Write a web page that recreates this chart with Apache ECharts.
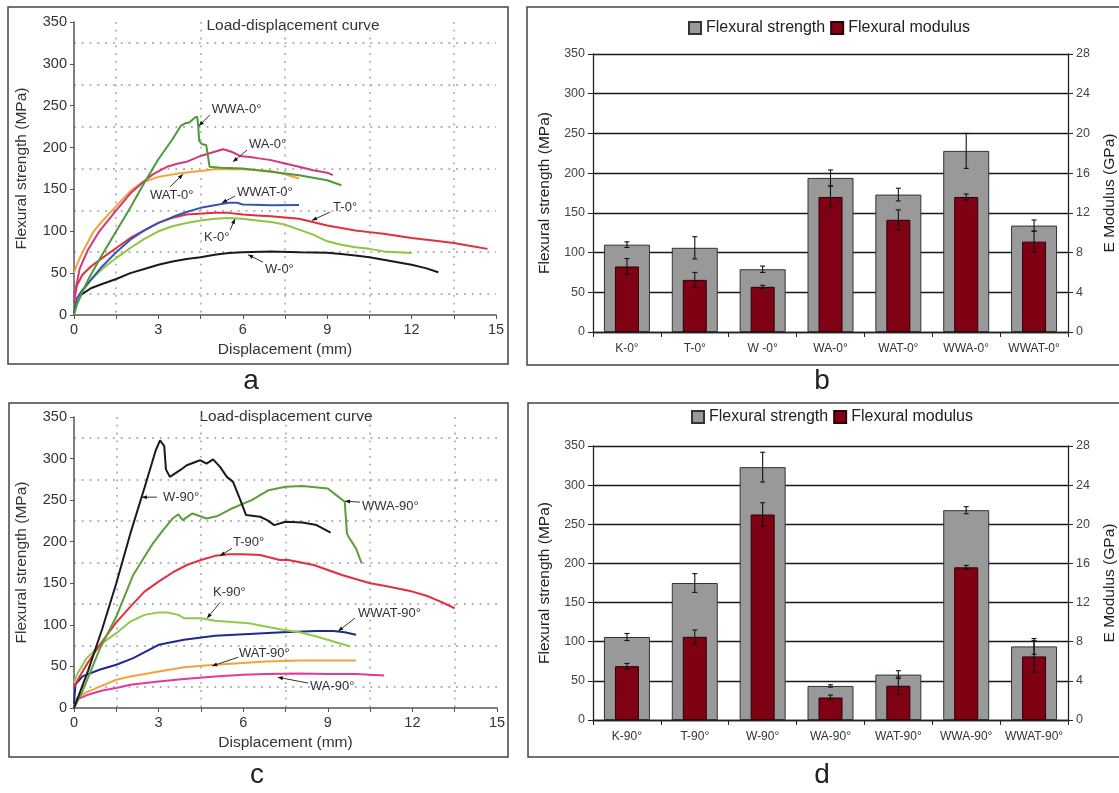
<!DOCTYPE html>
<html><head><meta charset="utf-8">
<script src="https://cdn.jsdelivr.net/npm/echarts/dist/echarts.min.js"></script>
<style>html,body{margin:0;padding:0;background:#fff}#c{width:1119px;height:793px}</style>
</head><body><div id="c"></div>
<script>
// ---------------- DATA ----------------
// Panel a: load-displacement curves, 0° (x: mm, y: MPa)
const a_WWA = [[0,0],[0.1,12],[0.3,28],[0.5,42],[1,72],[1.5,100],[2,128],[2.5,158],[3,186],[3.5,210],[3.8,226],[3.95,229],[4.1,230],[4.3,236],[4.38,237],[4.42,224],[4.45,208],[4.55,204],[4.7,203],[4.76,190],[4.82,177],[5.2,176],[6,175],[7,171],[8,167],[9,161],[9.5,155]];
const a_WA = [[0,18],[0.05,30],[0.2,55],[0.5,78],[0.9,100],[1.5,125],[2,145],[2.5,160],[2.8,168],[3.3,177],[3.7,181],[4,183],[4.5,190],[5,195],[5.3,198],[5.6,195],[5.9,190],[6.4,188],[7,185],[7.5,181],[8,177],[8.5,173],[9,170],[9.2,167]];
const a_WAT = [[0,50],[0.1,60],[0.3,75],[0.7,100],[1,112],[1.5,130],[2,148],[2.4,158],[3,165],[3.7,169],[4.5,172],[5,174],[6,174],[7,172],[7.5,168],[8,163]];
const a_WWAT = [[0,3],[0.1,20],[0.3,30],[0.6,42],[1,58],[1.5,75],[2,90],[2.5,101],[3,110],[3.5,117],[4,123],[4.5,128],[5,131],[5.5,134],[5.8,134],[6,132],[7,131],[8,131.5]];
const a_T = [[0,15],[0.1,35],[0.3,48],[0.6,58],[1,68],[1.5,80],[2,92],[2.5,101],[3,110],[3.5,116],[4,120],[5,122],[5.5,122],[6,120],[6.5,119],[7,118],[8,115],[9,107],[10,101],[10.5,99],[11,97],[12,92],[13,88],[13.5,86],[14,83],[14.7,79]];
const a_K = [[0,5],[0.1,15],[0.3,28],[0.6,42],[1,55],[1.5,68],[2,80],[2.5,91],[3,100],[3.5,106],[4,110],[4.5,113],[5,115],[5.5,116],[6,115],[6.5,113],[7,111],[7.5,108],[8,102],[8.5,96],[9,88],[9.5,84],[10,81],[10.5,79],[11,76],[11.5,75],[12,74]];
const a_W = [[0,2],[0.1,15],[0.25,24],[0.6,32],[1,37],[1.5,43],[2,50],[2.5,55],[3,60],[3.5,64],[4,67],[4.5,69],[5,72],[5.5,74],[6,75],[7,76],[8,75],[9,74.5],[9.5,73],[10,71],[10.5,69],[11,66],[12,60],[12.5,56],[12.95,51]];
// Panel c: load-displacement curves, 90°
const c_W = [[0,0],[0.5,45],[1,95],[1.5,150],[2,210],[2.5,265],[2.9,310],[3.05,322],[3.12,324],[3.2,315],[3.26,287],[3.4,278],[3.76,286],[4,292],[4.47,298],[4.7,294],[4.93,299],[5.18,290],[5.42,278],[5.64,272],[5.9,250],[6.1,232],[6.6,230],[6.85,226],[7.1,220],[7.5,224],[8.1,223],[8.6,220],[9.1,211]];
const c_WWA = [[0,0],[0.3,20],[0.9,70],[1.5,110],[2.1,160],[2.5,182],[2.8,198],[3.16,214],[3.5,228],[3.7,233],[3.85,226],[4.2,234],[4.7,228],[5.1,231],[5.6,240],[6.3,250],[6.9,262],[7.5,266],[8.1,267],[9,264],[9.3,256],[9.6,248],[9.68,210],[9.75,205],[10,192],[10.2,174]];
const c_T = [[0,25],[0.2,38],[0.5,55],[1,80],[1.5,103],[2,122],[2.5,140],[3,152],[3.5,163],[4,172],[4.5,178],[5,183],[5.5,185],[6,185],[6.6,184],[7.3,178],[7.6,178],[8.5,172],[9.5,160],[10.5,150],[11,147],[12,140],[12.5,135],[13,128],[13.5,120]];
const c_K = [[0,30],[0.1,40],[0.45,60],[1,78],[1.5,90],[2,104],[2.5,112],[3,115],[3.3,115],[3.7,112],[3.9,108],[4.5,108],[5,105],[6.2,102],[6.8,98],[7.4,94],[8,91],[8.6,86],[9.2,80],[9.8,74]];
const c_WWAT = [[0,5],[0.05,28],[0.3,38],[0.9,46],[1.5,52],[2.1,60],[3,76],[3.9,82],[5,87],[6.2,89],[7.4,91],[8.6,92.5],[9.2,92.5],[9.6,91],[10,88]];
const c_WAT = [[0,0],[0.1,12],[0.45,19],[1,27],[1.5,34],[2,38],[2.7,42],[3.9,49],[5,52],[6.8,56],[8,57],[10,57]];
const c_WA = [[0,0],[0.1,10],[0.5,16],[1,21],[1.5,24],[2,28],[3,32],[3.9,35],[5,38],[6,40],[6.8,41],[8,41.5],[9,41],[10,41],[11,39]];
// Curve labels (anchored in data units): text position, leader start, leader end
const annA = [
  {t:'WWA-0°',  at:[4.9,245],  from:[4.83,239], to:[4.44,226]},
  {t:'WA-0°',   at:[6.22,204], from:[6.15,197], to:[5.65,183]},
  {t:'WAT-0°',  at:[2.7,143],  from:[3.41,153], to:[3.87,168]},
  {t:'WWAT-0°', at:[5.79,147], from:[5.72,142], to:[5.26,134]},
  {t:'T-0°',    at:[9.21,128], from:[9.1,123],  to:[8.46,113]},
  {t:'K-0°',    at:[4.62,93],  from:[5.55,101.6], to:[5.72,114.7]},
  {t:'W-0°',    at:[6.79,54],  from:[6.72,63],  to:[6.19,72]}
];
const annC = [
  {t:'W-90°',    at:[3.16,253.6], from:[2.94,253.6], to:[2.41,253.6]},
  {t:'WWA-90°',  at:[10.21,243],  from:[10.14,247.6], to:[9.61,248.8]},
  {t:'T-90°',    at:[5.64,199.5], from:[5.6,192],   to:[5.18,183]},
  {t:'K-90°',    at:[4.93,139.4], from:[5.18,127],  to:[4.72,108]},
  {t:'WWAT-90°', at:[10.07,114],  from:[9.96,108],  to:[9.37,92.5]},
  {t:'WAT-90°',  at:[5.85,66],    from:[5.82,61],   to:[4.9,50.5]},
  {t:'WA-90°',   at:[8.37,26.4],  from:[8.3,30],    to:[7.23,37]}
];
// Panel b / d: bar values
const catsB = ['K-0°','T-0°','W -0°','WA-0°','WAT-0°','WWA-0°','WWAT-0°'];
const strengthB = [110,106,79,194,173,228,134];
const strengthErrB = [3.5,14,4,10,8,22,7];
const modulusB = [6.6,5.25,4.55,13.6,11.3,13.6,9.1];
const modulusErrB = [0.8,0.75,0.15,1.1,1.0,0.3,1.05];
const catsD = ['K-90°','T-90°','W-90°','WA-90°','WAT-90°','WWA-90°','WWAT-90°'];
const strengthD = [106,175,323,43.5,58,268,94];
const strengthErrD = [4.5,12,19,1.5,5,4.5,10];
const modulusD = [5.5,8.5,21.0,2.3,3.5,15.6,6.5];
const modulusErrD = [0.28,0.7,1.2,0.25,0.9,0.2,1.6];
// tick labels
const dispTicks = [0,3,6,9,12,15];
const strengthTicks = [0,50,100,150,200,250,300,350];
const modulusTicks = [0,4,8,12,16,20,24,28];

// ---------------- CHART ----------------
const FONT = '"Liberation Sans", Arial, sans-serif';
const chart = echarts.init(document.getElementById('c'), null, {renderer:'canvas'});

function curveX(gi, name){
  return {gridIndex:gi, type:'value', min:dispTicks[0], max:dispTicks[dispTicks.length-1], interval:dispTicks[1]-dispTicks[0],
    name:name, nameLocation:'middle', nameGap:27, nameTextStyle:{fontSize:15.5, color:'#333', fontFamily:FONT},
    axisLine:{lineStyle:{color:'#555', width:1.5}}, axisTick:{show:true, length:4, lineStyle:{color:'#555'}},
    minorTick:{show:true, splitNumber:2, length:4, lineStyle:{color:'#555'}},
    splitLine:{show:false}, minorSplitLine:{show:true, lineStyle:{color:'#b0b0b0', width:1.8, type:[1.8,6]}},
    axisLabel:{fontSize:14.5, color:'#333', margin:7, fontFamily:FONT}};
}
function curveY(gi){
  return {gridIndex:gi, type:'value', min:strengthTicks[0], max:strengthTicks[strengthTicks.length-1], interval:strengthTicks[1]-strengthTicks[0],
    name:'Flexural strength (MPa)', nameLocation:'middle', nameGap:44, nameRotate:90, nameTextStyle:{fontSize:15.5, color:'#333', fontFamily:FONT},
    axisLine:{show:true, lineStyle:{color:'#555', width:1.5}}, axisTick:{show:true, length:4, lineStyle:{color:'#555'}},
    minorTick:{show:false, splitNumber:2},
    splitLine:{show:false}, minorSplitLine:{show:true, lineStyle:{color:'#b0b0b0', width:1.8, type:[1.8,6]}},
    axisLabel:{fontSize:14.5, color:'#333', margin:7, fontFamily:FONT}};
}
function catX(gi, cats, hidden){
  return {gridIndex:gi, type:'category', data:cats, show:!hidden,
    axisLine:{lineStyle:{color:'#222', width:1.3}}, axisTick:{show:true, interval:0, length:5, lineStyle:{color:'#222'}},
    axisLabel:{fontSize:12, color:'#333', margin:11, interval:0, fontFamily:FONT}};
}
function barYL(gi){
  return {gridIndex:gi, type:'value', min:strengthTicks[0], max:strengthTicks[strengthTicks.length-1], interval:strengthTicks[1]-strengthTicks[0],
    name:'Flexural strength (MPa)', nameLocation:'middle', nameGap:40, nameRotate:90, nameTextStyle:{fontSize:15.5, color:'#222', fontFamily:FONT},
    axisLine:{show:true, lineStyle:{color:'#222', width:1.3}}, axisTick:{show:true, length:5, lineStyle:{color:'#222'}},
    splitLine:{show:true, lineStyle:{color:'#1a1a1a', width:1.3}},
    axisLabel:{fontSize:12.5, color:'#444', margin:8, fontFamily:FONT}};
}
function barYR(gi){
  return {gridIndex:gi, type:'value', position:'right', min:modulusTicks[0], max:modulusTicks[modulusTicks.length-1], interval:modulusTicks[1]-modulusTicks[0],
    name:'E Modulus (GPa)', nameLocation:'middle', nameGap:34, nameRotate:90, nameTextStyle:{fontSize:15.5, color:'#222', fontFamily:FONT},
    axisLine:{show:true, lineStyle:{color:'#222', width:1.3}}, axisTick:{show:true, length:5, lineStyle:{color:'#222'}},
    splitLine:{show:false},
    axisLabel:{fontSize:12.5, color:'#444', margin:8, fontFamily:FONT}};
}
function lineS(name, data, color, xi, yi){
  return {name:name, type:'line', data:data, xAxisIndex:xi, yAxisIndex:yi, showSymbol:false, symbol:'none',
    lineStyle:{color:color, width:2}, itemStyle:{color:color}, z:3, silent:true, animation:false};
}
function annotRender(list){
  return function(params, api){
    const a = list[params.dataIndex];
    const pt = api.coord(a.at), p1 = api.coord(a.from), p2 = api.coord(a.to);
    const ang = Math.atan2(p2[1]-p1[1], p2[0]-p1[0]);
    const L = 5, W = 2;
    const bx = p2[0]-L*Math.cos(ang), by = p2[1]-L*Math.sin(ang);
    const head = [[p2[0],p2[1]],[bx+W*Math.sin(ang), by-W*Math.cos(ang)],[bx-W*Math.sin(ang), by+W*Math.cos(ang)]];
    return {type:'group', children:[
      {type:'line', shape:{x1:p1[0],y1:p1[1],x2:p2[0],y2:p2[1]}, style:{stroke:'#333', lineWidth:1}},
      {type:'polygon', shape:{points:head}, style:{fill:'#111'}},
      {type:'text', x:pt[0], y:pt[1], style:{text:a.t, fill:'#333', fontSize:13, fontFamily:FONT, verticalAlign:'middle', align:'left'}}
    ]};
  };
}
function annotS(list, xi, yi){
  return {type:'custom', xAxisIndex:xi, yAxisIndex:yi, data:list.map(a=>[a.at[0], a.at[1]]), renderItem:annotRender(list), clip:false, silent:true, z:6, animation:false};
}
function errRender(params, api){
  const i = api.value(0), lo = api.value(1), hi = api.value(2);
  const a = api.coord([i, hi]), b = api.coord([i, lo]);
  const c = 2.5;
  const st = {stroke:'#111', lineWidth:1.1};
  return {type:'group', children:[
    {type:'line', shape:{x1:a[0],y1:a[1],x2:b[0],y2:b[1]}, style:st},
    {type:'line', shape:{x1:a[0]-c,y1:a[1],x2:a[0]+c,y2:a[1]}, style:st},
    {type:'line', shape:{x1:b[0]-c,y1:b[1],x2:b[0]+c,y2:b[1]}, style:st}
  ]};
}
function errS(vals, errs, xi, yi){
  return {type:'custom', xAxisIndex:xi, yAxisIndex:yi, renderItem:errRender, silent:true, z:6, animation:false,
    data:vals.map((v,i)=>[i, v-errs[i], v+errs[i]])};
}
function barS(name, data, xi, yi, w, color, border){
  return {name:name, type:'bar', data:data, xAxisIndex:xi, yAxisIndex:yi, barWidth:w,
    itemStyle:{color:color, borderColor:border, borderWidth:1}, z:2, silent:true, animation:false};
}

const option = {
  backgroundColor:'#fff',
  animation:false,
  textStyle:{fontFamily:FONT},
  grid:[
    {left:74, top:22, width:422, height:293},
    {left:593, top:54, width:479, height:278},
    {left:74, top:417, width:423, height:291},
    {left:593, top:446, width:479, height:274}
  ],
  xAxis:[
    curveX(0,'Displacement (mm)'),
    catX(1, catsB, false), catX(1, catsB, true),
    curveX(2,'Displacement (mm)'),
    catX(3, catsD, false), catX(3, catsD, true)
  ],
  yAxis:[
    curveY(0), barYL(1), barYR(1), curveY(2), barYL(3), barYR(3)
  ],
  legend:[
    {left:688, top:20, itemWidth:12, itemHeight:12, itemGap:5, icon:'rect', padding:0, selectedMode:false,
     data:['Flexural strength','Flexural modulus'], textStyle:{fontSize:16, color:'#222', fontFamily:FONT}},
    {left:691, top:409, itemWidth:12, itemHeight:12, itemGap:5, icon:'rect', padding:0, selectedMode:false,
     data:['Flexural strength','Flexural modulus'], textStyle:{fontSize:16, color:'#222', fontFamily:FONT}}
  ],
  series:[
    lineS('W-0°', a_W, '#1a1a1a', 0, 0),
    lineS('K-0°', a_K, '#8dc63f', 0, 0),
    lineS('T-0°', a_T, '#e0303a', 0, 0),
    lineS('WWAT-0°', a_WWAT, '#3656b4', 0, 0),
    lineS('WAT-0°', a_WAT, '#f4a23c', 0, 0),
    lineS('WA-0°', a_WA, '#d2367f', 0, 0),
    lineS('WWA-0°', a_WWA, '#4e9a38', 0, 0),
    annotS(annA, 0, 0),
    barS('Flexural strength', strengthB, 1, 1, 46, '#999999', '#333'),
    barS('Flexural modulus', modulusB, 2, 2, 24, '#800014', '#2a0006'),
    errS(strengthB, strengthErrB, 1, 1),
    errS(modulusB, modulusErrB, 1, 2),
    lineS('WA-90°', c_WA, '#e23a9a', 3, 3),
    lineS('WAT-90°', c_WAT, '#f4a23c', 3, 3),
    lineS('WWAT-90°', c_WWAT, '#1e2b8c', 3, 3),
    lineS('K-90°', c_K, '#92c84a', 3, 3),
    lineS('T-90°', c_T, '#e0303f', 3, 3),
    lineS('WWA-90°', c_WWA, '#5c9e3a', 3, 3),
    lineS('W-90°', c_W, '#1a1a1a', 3, 3),
    annotS(annC, 3, 3),
    barS('Flexural strength', strengthD, 4, 4, 46, '#999999', '#333'),
    barS('Flexural modulus', modulusD, 5, 5, 24, '#800014', '#2a0006'),
    errS(strengthD, strengthErrD, 4, 4),
    errS(modulusD, modulusErrD, 4, 5)
  ],
  graphic:[
    {type:'rect', shape:{x:8, y:7, width:500, height:357}, style:{fill:'none', stroke:'#444', lineWidth:1.5}, silent:true, z:-1},
    {type:'rect', shape:{x:527, y:7, width:620, height:358}, style:{fill:'none', stroke:'#444', lineWidth:1.5}, silent:true, z:-1},
    {type:'rect', shape:{x:9, y:403, width:499, height:354}, style:{fill:'none', stroke:'#444', lineWidth:1.5}, silent:true, z:-1},
    {type:'rect', shape:{x:528, y:403, width:620, height:354}, style:{fill:'none', stroke:'#444', lineWidth:1.5}, silent:true, z:-1},
    {type:'text', x:293, y:26, style:{text:'Load-displacement curve', fontSize:15.5, fill:'#333', fontFamily:FONT, align:'center', verticalAlign:'middle'}, silent:true},
    {type:'text', x:286, y:417, style:{text:'Load-displacement curve', fontSize:15.5, fill:'#333', fontFamily:FONT, align:'center', verticalAlign:'middle'}, silent:true},
    {type:'text', x:251, y:381, style:{text:'a', fontSize:28, fill:'#222', fontFamily:FONT, align:'center', verticalAlign:'middle'}, silent:true},
    {type:'text', x:822, y:381, style:{text:'b', fontSize:28, fill:'#222', fontFamily:FONT, align:'center', verticalAlign:'middle'}, silent:true},
    {type:'text', x:257, y:775, style:{text:'c', fontSize:28, fill:'#222', fontFamily:FONT, align:'center', verticalAlign:'middle'}, silent:true},
    {type:'text', x:822, y:775, style:{text:'d', fontSize:28, fill:'#222', fontFamily:FONT, align:'center', verticalAlign:'middle'}, silent:true}
  ]
};
chart.setOption(option);
</script></body></html>
